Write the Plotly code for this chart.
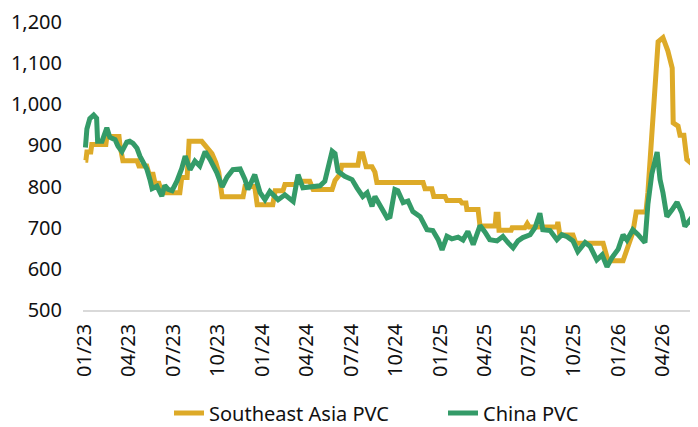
import plotly.graph_objects as go

# Southeast Asia PVC (step-like series)
sea_dates = [
    "2023-01-02", "2023-01-03", "2023-01-05", "2023-01-13", "2023-01-15", "2023-02-13", "2023-02-15",
    "2023-03-12", "2023-03-14", "2023-03-20", "2023-04-18", "2023-04-22", "2023-05-08", "2023-05-13",
    "2023-05-21", "2023-05-25", "2023-06-02", "2023-06-08", "2023-07-15", "2023-07-19", "2023-07-30",
    "2023-08-03", "2023-08-29", "2023-09-03", "2023-09-11", "2023-09-19", "2023-09-27", "2023-10-03",
    "2023-10-10", "2023-11-22", "2023-11-26", "2023-12-16", "2023-12-21", "2024-01-22", "2024-01-27",
    "2024-02-12", "2024-02-16", "2024-03-08", "2024-03-12", "2024-04-07", "2024-04-14", "2024-05-23",
    "2024-05-29", "2024-06-08", "2024-06-12", "2024-07-15", "2024-07-19", "2024-07-25", "2024-08-01",
    "2024-08-13", "2024-08-19", "2024-08-23", "2024-11-26", "2024-11-30", "2024-12-14", "2024-12-18",
    "2025-01-10", "2025-01-14", "2025-02-10", "2025-02-14", "2025-02-22", "2025-02-24", "2025-03-19",
    "2025-03-23", "2025-04-23", "2025-04-25", "2025-04-29", "2025-05-01", "2025-05-26", "2025-05-28",
    "2025-06-23", "2025-06-28", "2025-07-02", "2025-08-28", "2025-08-30", "2025-09-03", "2025-09-30",
    "2025-10-06", "2025-12-01", "2025-12-05", "2025-12-11", "2026-01-11", "2026-01-19", "2026-01-31",
    "2026-02-07", "2026-02-27", "2026-03-03", "2026-03-11", "2026-03-18", "2026-03-24", "2026-04-03",
    "2026-04-13", "2026-04-22", "2026-04-24", "2026-05-04", "2026-05-08", "2026-05-16", "2026-05-22",
    "2026-06-02", "2026-06-08", "2026-06-12",
]
sea_values = [
    864, 864, 884, 884, 902, 902, 922,
    922, 900, 863, 863, 850, 850, 830,
    830, 808, 808, 785, 785, 822, 822,
    910, 910, 903, 895, 880, 858, 835,
    775, 775, 800, 800, 756, 756, 790,
    790, 805, 805, 813, 813, 793, 793,
    815, 830, 852, 852, 880, 880, 848,
    848, 835, 810, 810, 795, 795, 776,
    776, 766, 766, 760, 760, 744, 744,
    704, 704, 733, 733, 694, 694, 700,
    700, 710, 702, 702, 714, 682, 682,
    662, 662, 640, 620, 620, 645, 688,
    738, 738, 785, 915, 1058, 1152, 1162,
    1130, 1088, 955, 947, 925, 925, 866,
    855, 835, 792,
]

# China PVC
cn_dates = [
    "2023-01-02", "2023-01-05", "2023-01-11", "2023-01-19", "2023-01-25", "2023-01-27", "2023-02-05",
    "2023-02-15", "2023-02-21", "2023-03-04", "2023-03-10", "2023-03-18", "2023-03-28", "2023-04-03",
    "2023-04-10", "2023-04-18", "2023-04-24", "2023-04-30", "2023-05-08", "2023-05-15", "2023-05-19",
    "2023-05-29", "2023-06-08", "2023-06-14", "2023-06-21", "2023-06-29", "2023-07-09", "2023-07-19",
    "2023-07-26", "2023-08-05", "2023-08-15", "2023-08-25", "2023-09-05", "2023-09-15", "2023-09-29",
    "2023-10-10", "2023-10-20", "2023-11-01", "2023-11-16", "2023-11-26", "2023-12-02", "2023-12-16",
    "2023-12-27", "2024-01-06", "2024-01-16", "2024-02-02", "2024-02-16", "2024-03-04", "2024-03-14",
    "2024-03-24", "2024-04-07", "2024-04-28", "2024-05-08", "2024-05-23", "2024-05-29", "2024-06-04",
    "2024-06-18", "2024-07-03", "2024-07-13", "2024-07-25", "2024-08-03", "2024-08-13", "2024-08-19",
    "2024-09-02", "2024-09-13", "2024-09-19", "2024-09-29", "2024-10-05", "2024-10-16", "2024-10-26",
    "2024-11-05", "2024-11-20", "2024-12-04", "2024-12-16", "2024-12-27", "2025-01-04", "2025-01-14",
    "2025-01-24", "2025-02-06", "2025-02-16", "2025-02-26", "2025-03-09", "2025-03-23", "2025-04-02",
    "2025-04-12", "2025-04-27", "2025-05-09", "2025-05-20", "2025-05-30", "2025-06-09", "2025-06-19",
    "2025-07-04", "2025-07-14", "2025-07-24", "2025-07-30", "2025-08-14", "2025-08-28", "2025-09-07",
    "2025-09-18", "2025-09-30", "2025-10-10", "2025-10-25", "2025-11-04", "2025-11-18", "2025-11-29",
    "2025-12-09", "2025-12-19", "2026-01-01", "2026-01-11", "2026-01-19", "2026-01-31", "2026-02-11",
    "2026-02-25", "2026-03-03", "2026-03-11", "2026-03-22", "2026-03-28", "2026-04-03", "2026-04-11",
    "2026-04-22", "2026-05-02", "2026-05-12", "2026-05-18", "2026-05-29", "2026-06-12",
]
cn_values = [
    895, 940, 965, 974, 966, 910, 910,
    943, 920, 914, 898, 885, 908, 910,
    905, 893, 874, 858, 843, 815, 795,
    801, 777, 803, 793, 790, 813, 844,
    874, 841, 862, 850, 885, 866, 834,
    799, 823, 841, 843, 817, 793, 829,
    785, 768, 788, 768, 780, 764, 829,
    797, 800, 802, 813, 886, 880, 837,
    825, 817, 797, 776, 785, 752, 776,
    744, 724, 727, 793, 790, 761, 765,
    739, 727, 695, 693, 671, 646, 679,
    673, 677, 670, 691, 659, 705, 690,
    671, 668, 679, 663, 651, 668, 676,
    683, 700, 735, 695, 693, 671, 683,
    678, 668, 642, 664, 655, 622, 634,
    605, 627, 648, 683, 670, 695, 683,
    664, 757, 830, 884, 817, 785, 727,
    744, 762, 735, 703, 720, 682,
]

y_ticks = [500, 600, 700, 800, 900, 1000, 1100, 1200]

FONT = "Noto Sans"
GOLD = "#DDAA28"
GREEN = "#349B68"

# the page body adds an 8px offset; the figure is sized to fill the rest of the window
W, H = 690, 419

fig = go.Figure()
fig.add_trace(go.Scatter(x=sea_dates, y=sea_values, mode="lines", name="Southeast Asia PVC",
                         line=dict(color=GOLD, width=5)))
fig.add_trace(go.Scatter(x=cn_dates, y=cn_values, mode="lines", name="China PVC",
                         line=dict(color=GREEN, width=5)))

fig.update_layout(
    width=W, height=H,
    margin=dict(l=75, r=0, t=14, b=117, autoexpand=False),
    paper_bgcolor="white", plot_bgcolor="white",
    font=dict(family=FONT, size=20, color="#111111"),
    showlegend=True,
    legend=dict(orientation="h", x=161 / W, xanchor="left", xref="container",
                y=14 / H, yanchor="middle", yref="container",
                font=dict(family=FONT, size=20, color="#111111"),
                entrywidth=229, itemwidth=30, tracegroupgap=0),
)
fig.update_xaxes(
    type="date", range=["2022-12-28", "2026-06-14"],
    tickformat="%m/%y", dtick="M3", tick0="2023-01-01", tickangle=-90,
    showgrid=False, zeroline=False, automargin=False,
    showline=True, linecolor="#D9D9D9", linewidth=1.5,
    ticks="", ticklabelstandoff=4,
)
fig.update_yaxes(
    range=[500, 1200], tickvals=y_ticks, tickformat=",",
    showgrid=False, zeroline=False, showline=False, automargin=False,
    ticks="", ticklabelstandoff=20,
)

fig.write_html("out.html")
